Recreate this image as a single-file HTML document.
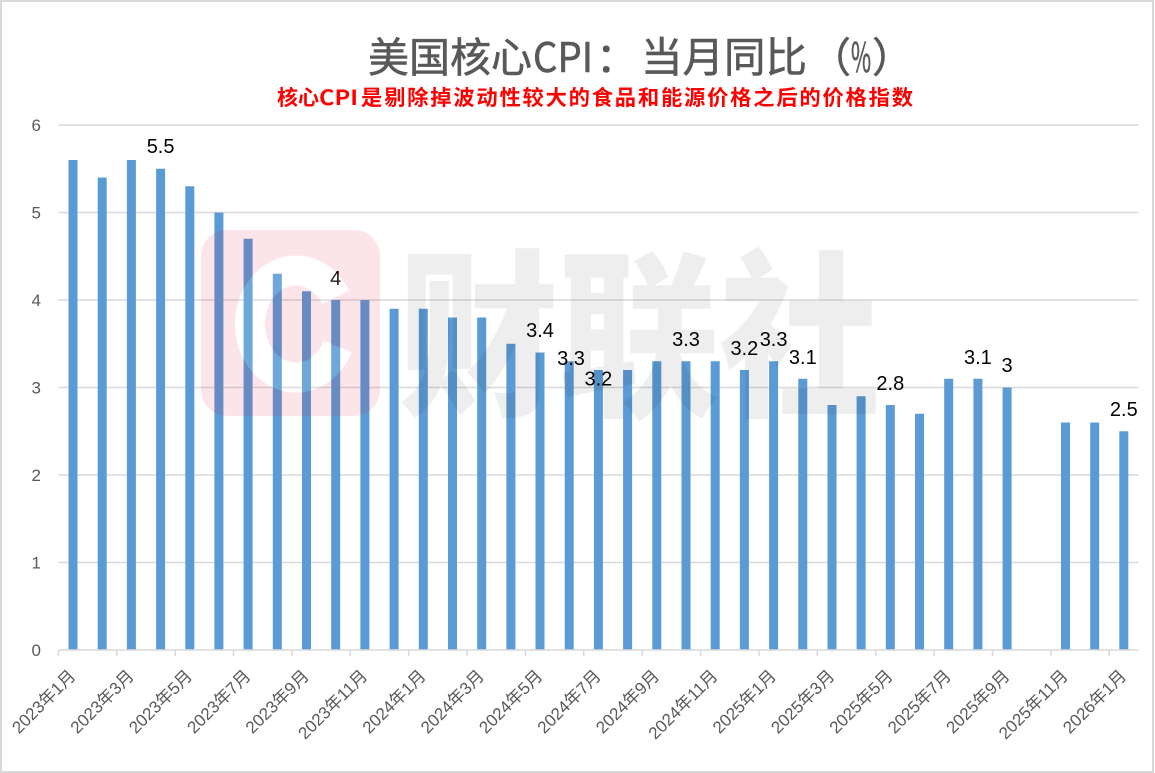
<!DOCTYPE html>
<html><head><meta charset="utf-8"><style>
html,body{margin:0;padding:0;background:#fff;}
svg{display:block;}
</style></head><body>
<svg width="1155" height="773" viewBox="0 0 1155 773" xmlns="http://www.w3.org/2000/svg">
<rect x="0" y="0" width="1155" height="773" fill="#fff"/>
<rect x="1" y="1" width="1152" height="771" fill="none" stroke="#d9d9d9" stroke-width="2"/>

<!-- title -->
<g font-family="'Noto Sans CJK SC','WenQuanYi Zen Hei',sans-serif" fill="#595959" stroke="#595959" stroke-width="0.6">
<text x="368" y="72" font-size="41">美国核心</text>
<text x="533" y="72" font-size="41" textLength="60" lengthAdjust="spacingAndGlyphs">CPI</text>
<text x="596" y="72" font-size="41">：</text>
<text x="641" y="72" font-size="41.5">当月同比</text>
<text x="810" y="72" font-size="41">（</text>
<text x="851" y="72" font-size="41" textLength="20" lengthAdjust="spacingAndGlyphs">%</text>
<text x="872" y="72" font-size="41">）</text>
</g>
<g font-family="'Noto Sans CJK SC','WenQuanYi Zen Hei',sans-serif" fill="#ff0000" font-weight="bold">
<text x="277" y="105" font-size="21">核心</text>
<text x="319" y="105" font-size="21" textLength="39" lengthAdjust="spacingAndGlyphs">CPI</text>
<text x="361" y="105" font-size="21.3" textLength="552" lengthAdjust="spacing">是剔除掉波动性较大的食品和能源价格之后的价格指数</text>
</g>

<!-- gridlines -->
<g stroke="#d9d9d9" stroke-width="1.5">
<line x1="58.4" y1="125" x2="1138.4" y2="125"/>
<line x1="58.4" y1="212.5" x2="1138.4" y2="212.5"/>
<line x1="58.4" y1="300" x2="1138.4" y2="300"/>
<line x1="58.4" y1="387.5" x2="1138.4" y2="387.5"/>
<line x1="58.4" y1="475" x2="1138.4" y2="475"/>
<line x1="58.4" y1="562.5" x2="1138.4" y2="562.5"/>
</g>

<!-- y labels -->
<g font-family="'Liberation Sans',sans-serif" font-size="17" fill="#595959" text-anchor="end">
<text x="41" y="131">6</text>
<text x="41" y="218.5">5</text>
<text x="41" y="306">4</text>
<text x="41" y="393.5">3</text>
<text x="41" y="481">2</text>
<text x="41" y="568.5">1</text>
<text x="41" y="656">0</text>
</g>

<!-- bars -->
<g fill="#5b9bd5">
<rect x="68.5" y="160" width="9" height="490"/>
<rect x="97.7" y="177.5" width="9" height="472.5"/>
<rect x="126.9" y="160" width="9" height="490"/>
<rect x="156.1" y="168.75" width="9" height="481.25"/>
<rect x="185.3" y="186.25" width="9" height="463.75"/>
<rect x="214.4" y="212.5" width="9" height="437.5"/>
<rect x="243.6" y="238.75" width="9" height="411.25"/>
<rect x="272.8" y="273.75" width="9" height="376.25"/>
<rect x="302.0" y="291.25" width="9" height="358.75"/>
<rect x="331.2" y="300" width="9" height="350"/>
<rect x="360.4" y="300" width="9" height="350"/>
<rect x="389.6" y="308.75" width="9" height="341.25"/>
<rect x="418.8" y="308.75" width="9" height="341.25"/>
<rect x="448.0" y="317.5" width="9" height="332.5"/>
<rect x="477.2" y="317.5" width="9" height="332.5"/>
<rect x="506.4" y="343.75" width="9" height="306.25"/>
<rect x="535.5" y="352.5" width="9" height="297.5"/>
<rect x="564.7" y="361.25" width="9" height="288.75"/>
<rect x="593.9" y="370" width="9" height="280"/>
<rect x="623.1" y="370" width="9" height="280"/>
<rect x="652.3" y="361.25" width="9" height="288.75"/>
<rect x="681.5" y="361.25" width="9" height="288.75"/>
<rect x="710.7" y="361.25" width="9" height="288.75"/>
<rect x="739.9" y="370" width="9" height="280"/>
<rect x="769.1" y="361.25" width="9" height="288.75"/>
<rect x="798.3" y="378.75" width="9" height="271.25"/>
<rect x="827.5" y="405" width="9" height="245"/>
<rect x="856.6" y="396.25" width="9" height="253.75"/>
<rect x="885.8" y="405" width="9" height="245"/>
<rect x="915.0" y="413.75" width="9" height="236.25"/>
<rect x="944.2" y="378.75" width="9" height="271.25"/>
<rect x="973.4" y="378.75" width="9" height="271.25"/>
<rect x="1002.6" y="387.5" width="9" height="262.5"/>
<rect x="1061.0" y="422.5" width="9" height="227.5"/>
<rect x="1090.2" y="422.5" width="9" height="227.5"/>
<rect x="1119.3" y="431.25" width="9" height="218.75"/>
</g>

<!-- axis -->
<g stroke="#d9d9d9" stroke-width="1.5">
<line x1="58.4" y1="650" x2="1138.4" y2="650"/>
<line x1="58.4" y1="650" x2="58.4" y2="656"/>
<line x1="116.8" y1="650" x2="116.8" y2="656"/>
<line x1="175.2" y1="650" x2="175.2" y2="656"/>
<line x1="233.5" y1="650" x2="233.5" y2="656"/>
<line x1="291.9" y1="650" x2="291.9" y2="656"/>
<line x1="350.3" y1="650" x2="350.3" y2="656"/>
<line x1="408.7" y1="650" x2="408.7" y2="656"/>
<line x1="467.1" y1="650" x2="467.1" y2="656"/>
<line x1="525.4" y1="650" x2="525.4" y2="656"/>
<line x1="583.8" y1="650" x2="583.8" y2="656"/>
<line x1="642.2" y1="650" x2="642.2" y2="656"/>
<line x1="700.6" y1="650" x2="700.6" y2="656"/>
<line x1="759.0" y1="650" x2="759.0" y2="656"/>
<line x1="817.3" y1="650" x2="817.3" y2="656"/>
<line x1="875.7" y1="650" x2="875.7" y2="656"/>
<line x1="934.1" y1="650" x2="934.1" y2="656"/>
<line x1="992.5" y1="650" x2="992.5" y2="656"/>
<line x1="1050.9" y1="650" x2="1050.9" y2="656"/>
<line x1="1109.2" y1="650" x2="1109.2" y2="656"/>
</g>

<!-- x labels -->
<g font-family="'Liberation Sans','Noto Sans CJK SC',sans-serif" font-size="17" fill="#595959" text-anchor="end">
<text transform="translate(76.5,677) rotate(-45)">2023年1月</text>
<text transform="translate(134.9,677) rotate(-45)">2023年3月</text>
<text transform="translate(193.3,677) rotate(-45)">2023年5月</text>
<text transform="translate(251.6,677) rotate(-45)">2023年7月</text>
<text transform="translate(310.0,677) rotate(-45)">2023年9月</text>
<text transform="translate(368.4,677) rotate(-45)">2023年11月</text>
<text transform="translate(426.8,677) rotate(-45)">2024年1月</text>
<text transform="translate(485.2,677) rotate(-45)">2024年3月</text>
<text transform="translate(543.5,677) rotate(-45)">2024年5月</text>
<text transform="translate(601.9,677) rotate(-45)">2024年7月</text>
<text transform="translate(660.3,677) rotate(-45)">2024年9月</text>
<text transform="translate(718.7,677) rotate(-45)">2024年11月</text>
<text transform="translate(777.1,677) rotate(-45)">2025年1月</text>
<text transform="translate(835.5,677) rotate(-45)">2025年3月</text>
<text transform="translate(893.8,677) rotate(-45)">2025年5月</text>
<text transform="translate(952.2,677) rotate(-45)">2025年7月</text>
<text transform="translate(1010.6,677) rotate(-45)">2025年9月</text>
<text transform="translate(1069.0,677) rotate(-45)">2025年11月</text>
<text transform="translate(1127.3,677) rotate(-45)">2026年1月</text>
</g>

<!-- data labels -->
<g font-family="'Liberation Sans',sans-serif" font-size="20" fill="#000" text-anchor="middle">
<text x="160.6" y="153">5.5</text>
<text x="335.7" y="285">4</text>
<text x="540.0" y="337">3.4</text>
<text x="571" y="365">3.3</text>
<text x="598.4" y="385.5">3.2</text>
<text x="686.0" y="346">3.3</text>
<text x="744.4" y="355">3.2</text>
<text x="773.6" y="346">3.3</text>
<text x="802.8" y="364">3.1</text>
<text x="890.3" y="390">2.8</text>
<text x="977.9" y="364">3.1</text>
<text x="1007.1" y="372">3</text>
<text x="1123.8" y="416">2.5</text>
</g>

<!-- watermark -->
<defs>
<mask id="cmask">
<rect x="0" y="0" width="1155" height="773" fill="#fff"/>
<path d="M335.8,297.3 A46,53.5 0 1 0 337.7,346.6" fill="none" stroke="#000" stroke-width="30"/>
</mask>
</defs>
<rect x="201" y="230" width="179" height="186" rx="26" ry="26" fill="rgba(230,0,40,0.1)" mask="url(#cmask)"/>
<path d="M335.8,297.3 A46,53.5 0 1 0 337.7,346.6" fill="none" stroke="rgba(255,255,255,0.12)" stroke-width="30"/>
<text x="398" y="402" font-family="'Noto Sans CJK SC','WenQuanYi Zen Hei',sans-serif" font-size="180" font-weight="900" fill="rgba(0,0,0,0.065)" textLength="482" lengthAdjust="spacingAndGlyphs">财联社</text>
</svg>
</body></html>
